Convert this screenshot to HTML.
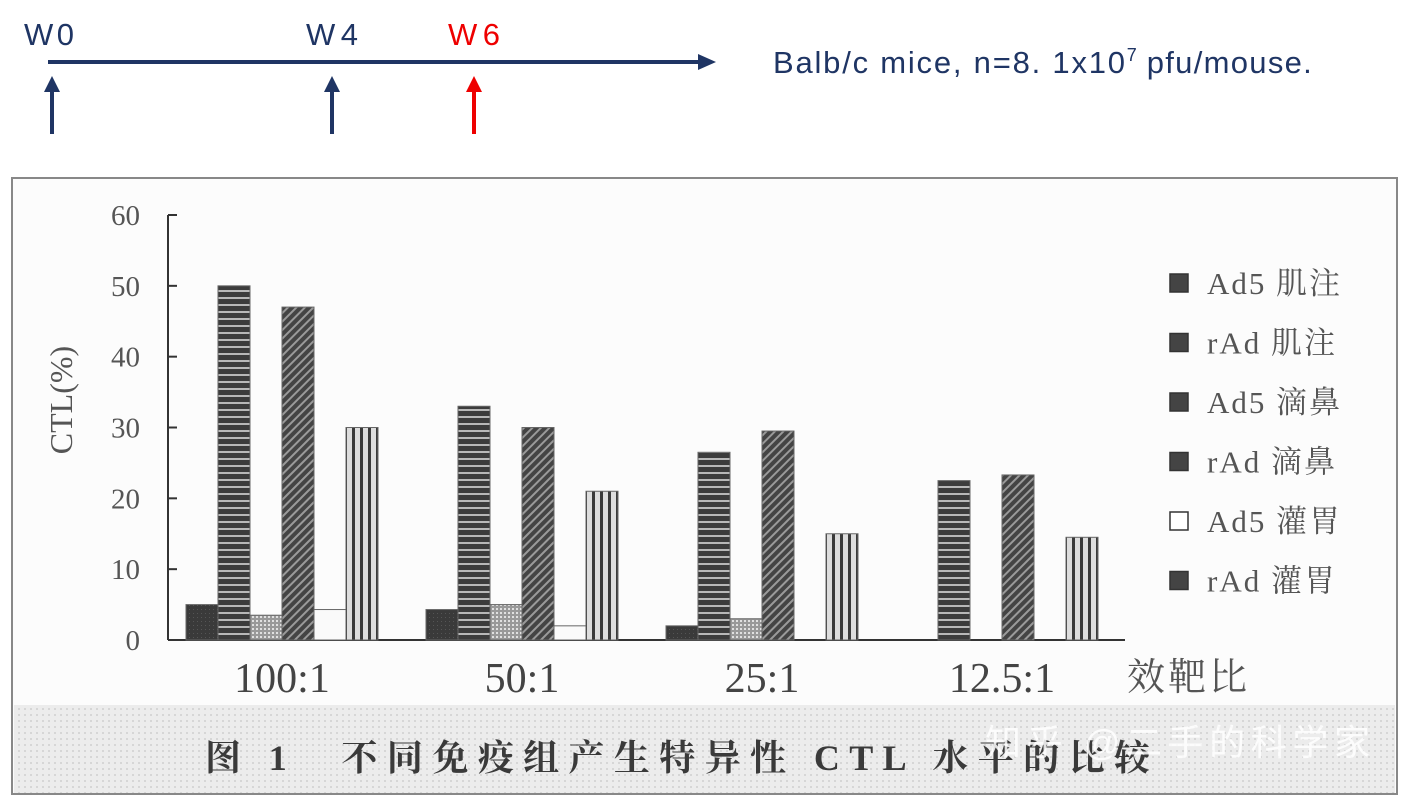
<!DOCTYPE html>
<html><head><meta charset="utf-8"><style>
body{margin:0;background:#fff;width:1409px;height:798px;overflow:hidden;font-family:"Liberation Sans",sans-serif}
</style></head><body>
<svg id="svg" width="1409" height="798" xmlns="http://www.w3.org/2000/svg">
<defs>
<pattern id="pSolid" width="4" height="4" patternUnits="userSpaceOnUse"><rect width="4" height="4" fill="#3a3a3a"/><rect x="1" y="1" width="1" height="1" fill="#555"/></pattern>
<pattern id="pHoriz" width="6" height="7" patternUnits="userSpaceOnUse"><rect width="6" height="7" fill="#3c3c3c"/><rect y="3" width="6" height="2" fill="#b8b8b8"/></pattern>
<pattern id="pDot" width="4" height="4" patternUnits="userSpaceOnUse"><rect width="4" height="4" fill="#999"/><rect width="2" height="2" fill="#e0e0e0"/></pattern>
<pattern id="pDiag" width="6" height="6" patternUnits="userSpaceOnUse" patternTransform="rotate(45)"><rect width="6" height="6" fill="#444"/><rect width="2" height="6" fill="#9a9a9a"/></pattern>
<pattern id="pWhite" width="4" height="4" patternUnits="userSpaceOnUse"><rect width="4" height="4" fill="#fafafa"/></pattern>
<pattern id="pVert" width="8" height="4" patternUnits="userSpaceOnUse"><rect width="8" height="4" fill="#ddd"/><rect width="3" height="4" fill="#3a3a3a"/></pattern>
<pattern id="pBg" width="6" height="6" patternUnits="userSpaceOnUse"><rect width="6" height="6" fill="#ececec"/><rect width="2" height="2" fill="#d6d6d6"/></pattern>
</defs>
<g>
<text x="24" y="45" font-size="31" fill="#1f3564" textLength="50">W0</text>
<text x="306" y="45" font-size="31" fill="#1f3564" textLength="52">W4</text>
<text x="448" y="45" font-size="31" fill="#e00" textLength="52">W6</text>
<line x1="48" y1="62" x2="705" y2="62" stroke="#1f3564" stroke-width="4"/>
<polygon points="716,62 698,54 698,70" fill="#1f3564"/>
<g><line x1="52" y1="134" x2="52" y2="88" stroke="#1f3564" stroke-width="4"/><polygon points="52,76 44,92 60,92" fill="#1f3564"/></g>
<g><line x1="332" y1="134" x2="332" y2="88" stroke="#1f3564" stroke-width="4"/><polygon points="332,76 324,92 340,92" fill="#1f3564"/></g>
<g><line x1="474" y1="134" x2="474" y2="88" stroke="#e00" stroke-width="4"/><polygon points="474,76 466,92 482,92" fill="#e00"/></g>
<text x="773" y="73" font-size="31" fill="#1f3564"><tspan textLength="352">Balb/c mice, n=8. 1x10</tspan><tspan dy="-12" font-size="18">7</tspan><tspan dy="12" textLength="175"> pfu/mouse.</tspan></text>
</g>
<rect x="12" y="178" width="1385" height="616" fill="#fcfcfc" stroke="#888" stroke-width="2"/>
<rect x="14" y="705" width="1381" height="88" fill="url(#pBg)"/>
<text x="205" y="770" font-size="36" fill="#3a3a3a" font-weight="bold" textLength="945" font-family="'Liberation Serif','Noto Serif CJK SC',serif">图 1　不同免疫组产生特异性 CTL 水平的比较</text>
<text x="985" y="755" font-size="36" fill="#fff" fill-opacity="0.85" textLength="385" font-family="'Liberation Sans','Noto Sans CJK SC',sans-serif">知乎 @二手的科学家</text>
<g id="chart"></g>
</svg>
<script>
const categories=["100:1","50:1","25:1","12.5:1"];
const seriesNames=["Ad5 肌注","rAd 肌注","Ad5 滴鼻","rAd 滴鼻","Ad5 灌胃","rAd 灌胃"];
const s0=[5,4.3,2,0];
const s1=[50,33,26.5,22.5];
const s2=[3.5,5,3,0];
const s3=[47,30,29.5,23.3];
const s4=[4.3,2,0,0];
const s5=[30,21,15,14.5];
const yTicks=[0,10,20,30,40,50,60];
const series=[s0,s1,s2,s3,s4,s5];
const fills=["url(#pSolid)","url(#pHoriz)","url(#pDot)","url(#pDiag)","url(#pWhite)","url(#pVert)"];
const NS="http://www.w3.org/2000/svg";
const g=document.getElementById('chart');
const y0=640,yScale=425/60,x0=168,xEnd=1125;
function y(v){return y0-v*yScale;}
function gx(i){return 186+i*240;}
function mk(t,a){const e=document.createElementNS(NS,t);for(const k in a)e.setAttribute(k,a[k]);g.appendChild(e);return e;}
const serif="'Liberation Serif','Noto Serif CJK SC',serif";
let ax=mk('line',{x1:x0,y1:215,x2:x0,y2:y0,stroke:'#333','stroke-width':2});


let bx=mk('line',{x1:x0,y1:y0,x2:xEnd,y2:y0,stroke:'#333','stroke-width':2});


yTicks.forEach(t=>{
 mk('line',{x1:x0,y1:y(t),x2:x0+9,y2:y(t),stroke:'#333','stroke-width':2});
 const tx=mk('text',{x:140,y:y(t)+10,'font-size':29,'text-anchor':'end',fill:'#555','font-family':serif});
 tx.textContent=t;
 
 
});
const yt=mk('text',{x:0,y:0,'font-size':32,fill:'#555','font-family':serif,'text-anchor':'middle',transform:'translate(72,400) rotate(-90)'});
yt.textContent='CTL(%)';


categories.forEach((c,i)=>{
 series.forEach((s,j)=>{
  const v=s[i];if(v<=0)return;
  const r=mk('rect',{x:gx(i)+j*32,y:y(v),width:32,height:y0-y(v),fill:fills[j],stroke:'#666','stroke-width':1});
  
  
 });
 const t=mk('text',{x:gx(i)+96,y:692,'font-size':42,'text-anchor':'middle',fill:'#444','font-family':serif});
 t.textContent=c;
 
 
});
const xl=mk('text',{x:1127,y:690,'font-size':38,fill:'#555','font-family':serif,textLength:120});
xl.textContent='效靶比';


seriesNames.forEach((n,j)=>{
 const yy=283+j*59.5;
 const sq=mk('rect',{x:1170,y:yy-9,width:18,height:18,fill:j==4?'#fff':'#444',stroke:'#333','stroke-width':1.5});
 
 
 const t=mk('text',{x:1207,y:yy+11,'font-size':31,fill:'#555','font-family':serif,textLength:j%2==0?133:128});
 t.textContent=n;
 
 
});
</script>
</body></html>
